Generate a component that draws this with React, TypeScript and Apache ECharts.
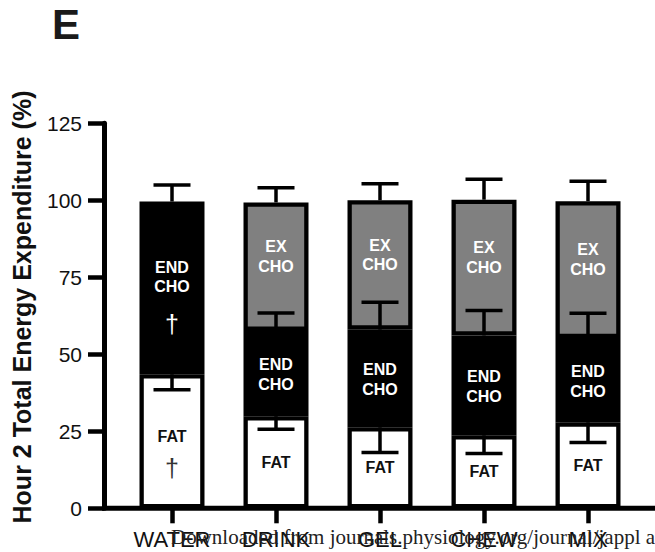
import React, { useEffect, useRef } from "react";
import * as echarts from "echarts";

const categories = ["WATER", "DRINK", "GEL", "CHEW", "MIX"];
const fatValues = [43.5, 29.9, 26.3, 23.7, 27.9];
const endChoValues = [56.1, 27.7, 31.7, 32.4, 27.4];
const exChoValues: (number | null)[] = [null, 41.7, 42.0, 44.1, 44.4];
const fatErr = [5.0, 4.2, 8.2, 5.9, 6.5]; // drawn downward
const endChoErr = [5.4, 5.8, 8.9, 8.1, 8.0]; // drawn upward
const exChoErr: (number | null)[] = [null, 4.8, 5.4, 6.6, 6.5]; // drawn upward
const daggerCategories = ["WATER"];
const yMin = 0;
const yMax = 125;
const yInterval = 25;
const yTitle = "Hour 2 Total Energy Expenditure (%)";
const panelLetter = "E";
const watermark = "Downloaded from journals.physiology.org/journal/jappl a";

const FONT = '"Liberation Sans", Arial, Helvetica, sans-serif';
const GRID_TOP = 123.3;
const GRID_BOTTOM = 43.7;
const H = 552;

export default function App() {
  const ref = useRef<HTMLDivElement>(null);
  useEffect(() => {
    if (!ref.current) return;
    const chart = echarts.init(ref.current, undefined, { renderer: "svg" });

    const hasDagger = (i: number) => daggerCategories.includes(categories[i]);

    const fatData = fatValues.map((v, i) => ({
      value: v,
      label: hasDagger(i)
        ? {
            show: true,
            formatter: "{a|FAT}\n{d|†}",
            offset: [0, 17],
            rich: {
              a: { fontSize: 16, fontWeight: "bold", lineHeight: 19, color: "#111", fontFamily: FONT },
              d: { fontSize: 25, lineHeight: 43, color: "#333", fontFamily: FONT },
            },
          }
        : {
            show: true,
            formatter: "FAT",
            fontSize: 16,
            fontWeight: "bold",
            color: "#111",
            fontFamily: FONT,
          },
    }));

    const endData = endChoValues.map((v, i) => ({
      value: v,
      label: hasDagger(i)
        ? {
            show: true,
            formatter: "{a|END}\n{a|CHO}\n{d|†}",
            offset: [0, 17],
            rich: {
              a: { fontSize: 16, fontWeight: "bold", lineHeight: 19, color: "#fff", fontFamily: FONT },
              d: { fontSize: 25, lineHeight: 55, color: "#fff", fontFamily: FONT },
            },
          }
        : {
            show: true,
            formatter: "END\nCHO",
            offset: [0, 1],
            fontSize: 16,
            fontWeight: "bold",
            lineHeight: 20,
            color: "#fff",
            fontFamily: FONT,
          },
    }));

    const exData = exChoValues.map((v) =>
      v == null
        ? { value: "-" as any, label: { show: false } }
        : {
            value: v,
            label: {
              show: true,
              formatter: "EX\nCHO",
              offset: [0, -10],
              fontSize: 16,
              fontWeight: "bold",
              lineHeight: 19.5,
              color: "#fff",
              fontFamily: FONT,
            },
          }
    );

    const errData: number[][] = [];
    categories.forEach((_, i) => {
      const f = fatValues[i];
      errData.push([i, f, f - fatErr[i]]);
      const e = f + endChoValues[i];
      errData.push([i, e, e + endChoErr[i]]);
      const x = exChoValues[i];
      const xe = exChoErr[i];
      if (x != null && xe != null) {
        const t = e + x;
        errData.push([i, t, t + xe]);
      }
    });

    const barCommon = {
      type: "bar" as const,
      stack: "total",
      barWidth: 65,
      itemStyle: { borderColor: "#000", borderWidth: 4.3 },
      label: { position: "inside" },
    };

    const axisY = H - GRID_BOTTOM;

    chart.setOption({
      animation: false,
      backgroundColor: "#fff",
      grid: { left: 120, right: 15, top: GRID_TOP, bottom: GRID_BOTTOM, containLabel: false },
      xAxis: {
        type: "category",
        data: categories,
        axisLine: { show: false },
        axisTick: { show: true, alignWithLabel: true, length: 15, lineStyle: { color: "#000", width: 4.5 } },
        axisLabel: { fontSize: 22, color: "#111", margin: 20, fontFamily: FONT, interval: 0 },
        splitLine: { show: false },
      },
      yAxis: {
        type: "value",
        min: yMin,
        max: yMax,
        interval: yInterval,
        offset: 16,
        axisLine: { show: true, lineStyle: { color: "#000", width: 5 } },
        axisTick: { show: true, length: 16, lineStyle: { color: "#000", width: 4.5 } },
        axisLabel: { fontSize: 21, color: "#111", margin: 22, fontFamily: FONT },
        splitLine: { show: false },
      },
      series: [
        { ...barCommon, name: "FAT", data: fatData, itemStyle: { ...barCommon.itemStyle, color: "#fff" } },
        { ...barCommon, name: "END CHO", data: endData, itemStyle: { ...barCommon.itemStyle, color: "#000" } },
        { ...barCommon, name: "EX CHO", data: exData, itemStyle: { ...barCommon.itemStyle, color: "#808080" } },
        {
          type: "custom",
          name: "SD",
          z: 10,
          data: errData,
          encode: { x: 0, y: [1, 2] },
          renderItem: (params: any, api: any) => {
            const x = api.value(0);
            const b = api.value(1);
            const t = api.value(2);
            const p0 = api.coord([x, b]);
            const p1 = api.coord([x, t]);
            const hw = 18.5;
            return {
              type: "group",
              children: [
                {
                  type: "line",
                  shape: { x1: p0[0], y1: p0[1], x2: p1[0], y2: p1[1] },
                  style: { stroke: "#000", lineWidth: 3.5 },
                },
                {
                  type: "line",
                  shape: { x1: p1[0] - hw, y1: p1[1], x2: p1[0] + hw, y2: p1[1] },
                  style: { stroke: "#000", lineWidth: 3.5 },
                },
              ],
            };
          },
        },
      ],
      graphic: [
        {
          type: "line",
          z: 5,
          shape: { x1: 102, y1: axisY, x2: 660, y2: axisY },
          style: { stroke: "#000", lineWidth: 5 },
        },
        {
          type: "text",
          x: 52,
          y: 24,
          style: {
            text: panelLetter,
            fontSize: 42,
            fontWeight: "bold",
            fontFamily: FONT,
            fill: "#1a1a1a",
            textAlign: "left",
            textVerticalAlign: "middle",
          },
        },
        {
          type: "text",
          x: 22,
          y: 307,
          rotation: Math.PI / 2,
          style: {
            text: yTitle,
            fontSize: 25,
            fontWeight: "bold",
            fontFamily: FONT,
            fill: "#111",
            textAlign: "center",
            textVerticalAlign: "middle",
          },
        },
        {
          type: "text",
          x: 171,
          y: 537,
          z: 20,
          style: {
            text: watermark,
            fontSize: 21,
            fontFamily: '"Liberation Serif", "Times New Roman", serif',
            fill: "#222",
            textAlign: "left",
            textVerticalAlign: "middle",
          },
        },
      ],
    });
    return () => chart.dispose();
  }, []);
  return (
    <div
      ref={ref}
      style={{ position: "fixed", left: 0, top: 0, width: 655, height: 552, background: "#fff" }}
    />
  );
}
